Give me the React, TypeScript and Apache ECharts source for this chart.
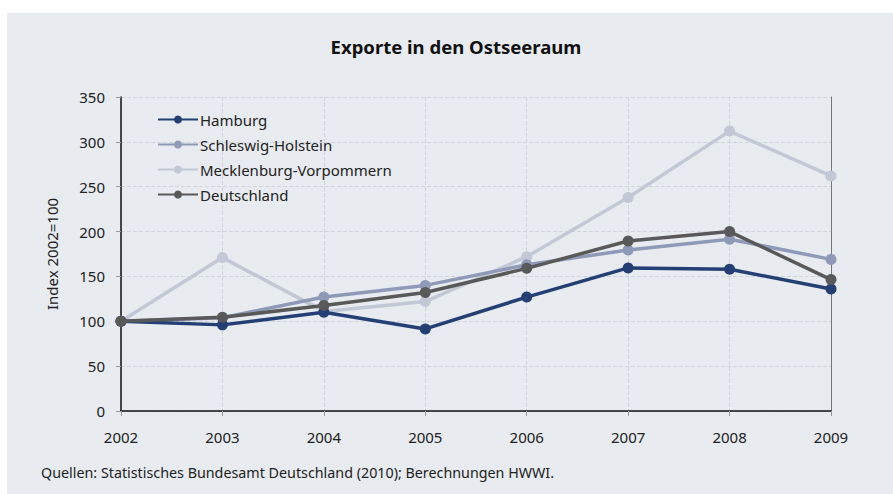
import React, { useEffect, useRef } from "react";
import * as echarts from "echarts";

const years = ["2002", "2003", "2004", "2005", "2006", "2007", "2008", "2009"];
const hamburg = [100, 96, 110, 91.5, 127, 159.5, 158, 136];
const schleswig = [100, 104, 127, 140, 163, 179.5, 191.5, 169];
const mecklenburg = [100, 171, 111, 122, 172, 238, 312, 262];
const deutschland = [100, 104.5, 117.5, 132, 159, 189.5, 200, 146.5];

const colors = ["#233f74", "#8e9ab8", "#c3c8d6", "#595959"];
const names = ["Hamburg", "Schleswig-Holstein", "Mecklenburg-Vorpommern", "Deutschland"];
const seriesData = [hamburg, schleswig, mecklenburg, deutschland];

export default function App() {
  const ref = useRef<HTMLDivElement>(null);
  useEffect(() => {
    if (!ref.current) return;
    const chart = echarts.init(ref.current, null, { renderer: "svg" });
    const font = "Noto Sans";
    chart.setOption({
      animation: false,
      textStyle: { fontFamily: font },
      graphic: [
        {
          type: "rect",
          z: -10,
          shape: { x: 7, y: 13, width: 886, height: 481 },
          style: { fill: "#e8ebf0" },
        },
        {
          type: "text",
          left: 41,
          top: 465,
          style: {
            text: "Quellen: Statistisches Bundesamt Deutschland (2010); Berechnungen HWWI.",
            fontSize: 14.3,
            fill: "#222",
            fontFamily: font,
          },
        },
      ],
      title: {
        text: "Exporte in den Ostseeraum",
        left: 451,
        textAlign: "center",
        top: 32,
        textStyle: { fontSize: 18.5, fontWeight: "bold", color: "#111", fontFamily: font },
      },
      legend: {
        orient: "vertical",
        left: 157,
        top: 112,
        padding: 0,
        itemWidth: 40,
        itemHeight: 10,
        itemGap: 10,
        data: names,
        textStyle: { fontSize: 15, color: "#222", fontFamily: font, padding: [0, 0, 0, -3] },
      },
      grid: { left: 121, right: 62, top: 97, bottom: 83 },
      xAxis: {
        type: "category",
        data: years,
        boundaryGap: false,
        axisLine: { lineStyle: { color: "#111", width: 1.5 } },
        axisTick: { show: true, length: 5, lineStyle: { color: "#999" } },
        axisLabel: { fontSize: 15, color: "#222", margin: 18 },
        splitLine: { show: true, lineStyle: { color: "#d0d4dc", type: "dashed" } },
      },
      yAxis: [
        {
          type: "value",
          min: 0,
          max: 350,
          interval: 50,
          name: "Index 2002=100",
          nameLocation: "middle",
          nameGap: 62,
          nameTextStyle: { fontSize: 15, color: "#222" },
          axisLine: { show: true, lineStyle: { color: "#111", width: 1.5 } },
          axisTick: { show: true, length: 5, lineStyle: { color: "#999" } },
          axisLabel: { fontSize: 15, color: "#222", margin: 16 },
          splitLine: { show: true, lineStyle: { color: "#d0d4dc", type: "dashed" } },
        },
        {
          type: "value",
          min: 0,
          max: 350,
          interval: 50,
          position: "right",
          axisLine: { show: true, lineStyle: { color: "#777", width: 1 } },
          axisTick: { show: false },
          axisLabel: { show: false },
          splitLine: { show: false },
        },
      ],
      series: names.map((n, i) => ({
        name: n,
        type: "line",
        data: seriesData[i],
        color: colors[i],
        symbol: "circle",
        symbolSize: 11,
        lineStyle: { width: 3.5, color: colors[i] },
        itemStyle: { color: colors[i] },
        z: i === 2 ? 2 : i === 3 ? 5 : 3 + (i === 0 ? 1 : 0),
      })),
    });
    return () => chart.dispose();
  }, []);
  return (
    <div
      ref={ref}
      style={{ position: "fixed", left: 0, top: 0, width: 893, height: 494, background: "#fff" }}
    />
  );
}
